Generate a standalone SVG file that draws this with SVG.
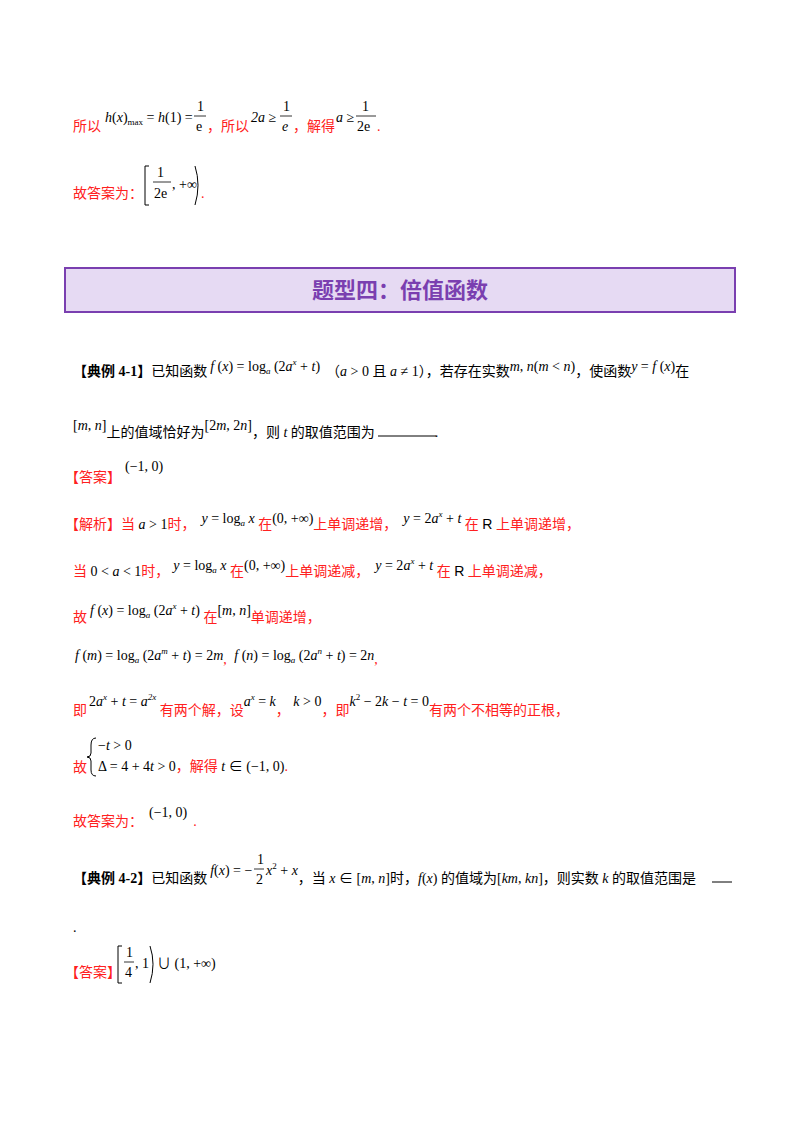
<svg xmlns="http://www.w3.org/2000/svg" width="800" height="1132" viewBox="0 0 800 1132">
<style>
text{font-family:"Liberation Serif","Noto Sans CJK SC",serif;font-size:14px;fill:#000}
.r{fill:#ff2020}
.i{font-style:italic}
.s{font-size:9px}
.b{font-weight:bold}
.frac{stroke:#000;stroke-width:0.8}
.br{fill:none;stroke:#000;stroke-width:1}
</style>
<rect width="800" height="1132" fill="#fff"/>
<g id="top">
<text x="73" y="131"><tspan class="r">所以</tspan><tspan dx="4" dy="-9"><tspan class="i">h</tspan>(<tspan class="i">x</tspan>)</tspan><tspan class="s" dy="3">max</tspan><tspan dy="-3"> = </tspan><tspan class="i">h</tspan>(1) =</text>
<text x="197" y="111">1</text><line class="frac" x1="194" y1="116" x2="206" y2="116"/><text x="196" y="131">e</text>
<text x="207" y="131" class="r">，所以</text>
<text x="251" y="122"><tspan class="i">2a</tspan> ≥</text>
<text x="283" y="111">1</text><line class="frac" x1="280" y1="116" x2="292" y2="116"/><text class="i" x="282" y="131">e</text>
<text x="293" y="131" class="r">，解得</text>
<text x="336" y="122"><tspan class="i">a</tspan> ≥</text>
<text x="362" y="111">1</text><line class="frac" x1="356" y1="116" x2="376" y2="116"/><text x="357" y="131">2e</text>
<text x="377" y="131" class="r">.</text>
<text x="73" y="198" class="r">故答案为：</text>
<path class="br" d="M 149 166 L 145 166 L 145 205 L 149 205"/>
<text x="157" y="177">1</text><line class="frac" x1="153" y1="182" x2="171" y2="182"/><text x="154" y="198">2e</text>
<text x="172" y="189">, +∞</text>
<path class="br" d="M 195 166 Q 201 185 195 205"/>
<text x="201" y="198" class="r">.</text>
</g>
<g id="header">
<rect x="65" y="268" width="670" height="44" fill="#e6daf3" stroke="#7a3fb0" stroke-width="2"/>
<text x="400" y="298" text-anchor="middle" style="fill:#7a3fb0;font-family:'Noto Sans CJK SC',sans-serif;font-weight:bold;font-size:22px">题型四：倍值函数</text>
</g>
<g id="ex1">
<text x="73" y="376"><tspan class="b">【典例 4-1】</tspan>已知函数<tspan dx="3" dy="-5"><tspan class="i">f</tspan> (<tspan class="i">x</tspan>) = log</tspan><tspan class="s i" dy="3">a</tspan><tspan dy="-3"> (2<tspan class="i">a</tspan></tspan><tspan class="s i" dy="-6">x</tspan><tspan dy="6"> + </tspan><tspan class="i">t</tspan>)<tspan dx="6" dy="5">（</tspan><tspan class="i">a</tspan> &gt; 0 且 <tspan class="i">a</tspan> ≠ 1），若存在实数<tspan dy="-5"><tspan class="i">m</tspan>, <tspan class="i">n</tspan>(<tspan class="i">m</tspan> &lt; <tspan class="i">n</tspan>)</tspan><tspan dy="5">，使函数</tspan><tspan dy="-5"><tspan class="i">y</tspan> = <tspan class="i">f</tspan> (<tspan class="i">x</tspan>)</tspan><tspan dy="5">在</tspan></text>
<text x="73" y="437"><tspan dy="-7">[<tspan class="i">m</tspan>, <tspan class="i">n</tspan>]</tspan><tspan dy="7">上的值域恰好为</tspan><tspan dy="-7">[2<tspan class="i">m</tspan>, 2<tspan class="i">n</tspan>]</tspan><tspan dy="7">，则 </tspan><tspan class="i">t</tspan> 的取值范围为<tspan dx="60">.</tspan></text>
<line x1="378" y1="436" x2="436" y2="436" stroke="#000" stroke-width="1"/>
<text x="65" y="482"><tspan class="r">【答案】</tspan><tspan dx="4" dy="-11">(−1, 0)</tspan></text>
</g>
<g id="sol1">
<text x="65" y="529"><tspan class="r">【解析】当 </tspan><tspan class="i">a</tspan> &gt; 1<tspan class="r">时，</tspan><tspan dx="6" dy="-6"><tspan class="i">y</tspan> = log</tspan><tspan class="s i" dy="3">a</tspan><tspan class="i" dy="-3"> x</tspan><tspan class="r" dy="6"> 在</tspan><tspan dy="-6">(0, +∞)</tspan><tspan class="r" dy="6">上单调递增，</tspan><tspan dx="6" dy="-6"><tspan class="i">y</tspan> = 2<tspan class="i">a</tspan></tspan><tspan class="s i" dy="-6">x</tspan><tspan dy="6"> + </tspan><tspan class="i">t</tspan><tspan class="r" dy="6"> 在 </tspan><tspan style="font-family:'Liberation Sans'">R</tspan><tspan class="r"> 上单调递增，</tspan></text>
<text x="73" y="576"><tspan class="r">当 </tspan>0 &lt; <tspan class="i">a</tspan> &lt; 1<tspan class="r">时，</tspan><tspan dx="4" dy="-6"><tspan class="i">y</tspan> = log</tspan><tspan class="s i" dy="3">a</tspan><tspan class="i" dy="-3"> x</tspan><tspan class="r" dy="6"> 在</tspan><tspan dy="-6">(0, +∞)</tspan><tspan class="r" dy="6">上单调递减，</tspan><tspan dx="6" dy="-6"><tspan class="i">y</tspan> = 2<tspan class="i">a</tspan></tspan><tspan class="s i" dy="-6">x</tspan><tspan dy="6"> + </tspan><tspan class="i">t</tspan><tspan class="r" dy="6"> 在 </tspan><tspan style="font-family:'Liberation Sans'">R</tspan><tspan class="r"> 上单调递减，</tspan></text>
<text x="73" y="622"><tspan class="r">故</tspan><tspan dx="3" dy="-7"><tspan class="i">f</tspan> (<tspan class="i">x</tspan>) = log</tspan><tspan class="s i" dy="3">a</tspan><tspan dy="-3"> (2<tspan class="i">a</tspan></tspan><tspan class="s i" dy="-6">x</tspan><tspan dy="6"> + </tspan><tspan class="i">t</tspan>)<tspan class="r" dy="7"> 在</tspan><tspan dy="-7">[<tspan class="i">m</tspan>, <tspan class="i">n</tspan>]</tspan><tspan class="r" dy="7">单调递增，</tspan></text>
<text x="75" y="660"><tspan class="i">f</tspan> (<tspan class="i">m</tspan>) = log<tspan class="s i" dy="3">a</tspan><tspan dy="-3"> (2<tspan class="i">a</tspan></tspan><tspan class="s i" dy="-6">m</tspan><tspan dy="6"> + </tspan><tspan class="i">t</tspan>) = 2<tspan class="i">m</tspan><tspan class="r" dy="4">,  </tspan><tspan dx="4" dy="-4"><tspan class="i">f</tspan> (<tspan class="i">n</tspan>) = log</tspan><tspan class="s i" dy="3">a</tspan><tspan dy="-3"> (2<tspan class="i">a</tspan></tspan><tspan class="s i" dy="-6">n</tspan><tspan dy="6"> + </tspan><tspan class="i">t</tspan>) = 2<tspan class="i">n</tspan><tspan class="r" dy="4">,</tspan></text>
<text x="73" y="715"><tspan class="r">即</tspan><tspan dx="2" dy="-9">2<tspan class="i">a</tspan></tspan><tspan class="s i" dy="-6">x</tspan><tspan dy="6"> + </tspan><tspan class="i">t</tspan> = <tspan class="i">a</tspan><tspan class="s i" dy="-6">2x</tspan><tspan class="r" dy="15"> 有两个解，设</tspan><tspan dy="-9" class="i">a</tspan><tspan class="s i" dy="-6">x</tspan><tspan dy="6"> = </tspan><tspan class="i">k</tspan><tspan class="r" dy="9">，</tspan><tspan dy="-9"> <tspan class="i">k</tspan> &gt; 0</tspan><tspan class="r" dy="9">，即</tspan><tspan dy="-9" class="i">k</tspan><tspan class="s" dy="-6">2</tspan><tspan dy="6"> − 2</tspan><tspan class="i">k</tspan> − <tspan class="i">t</tspan> = 0<tspan class="r" dy="9">有两个不相等的正根，</tspan></text>
<text x="73" y="772" class="r">故</text>
<path class="br" d="M 96 738 Q 91 738 91 745 L 91 753 Q 91 757 87 757 Q 91 757 91 761 L 91 770 Q 91 776 96 776"/>
<text x="98" y="750">−<tspan class="i">t</tspan> &gt; 0</text>
<text x="98" y="771">Δ = 4 + 4<tspan class="i">t</tspan> &gt; 0<tspan class="r">，解得 </tspan><tspan class="i">t</tspan> ∈ (−1, 0)<tspan class="r">.</tspan></text>
<text x="73" y="826"><tspan class="r">故答案为：</tspan><tspan dx="6" dy="-9">(−1, 0)</tspan><tspan class="r" dx="6" dy="9">.</tspan></text>
</g>
<g id="ex2">
<text x="73" y="883"><tspan class="b">【典例 4-2】</tspan>已知函数<tspan dx="3" dy="-8"><tspan class="i">f</tspan>(<tspan class="i">x</tspan>) = −</tspan></text>
<text x="257" y="864">1</text><line class="frac" x1="254" y1="869" x2="264" y2="869"/><text x="256" y="884">2</text>
<text x="266" y="875"><tspan class="i">x</tspan><tspan class="s" dy="-6">2</tspan><tspan dy="6"> + </tspan><tspan class="i">x</tspan><tspan dy="8">，当 </tspan><tspan class="i">x</tspan> ∈ [<tspan class="i">m</tspan>, <tspan class="i">n</tspan>]时，<tspan class="i">f</tspan>(<tspan class="i">x</tspan>) 的值域为[<tspan class="i">km</tspan>, <tspan class="i">kn</tspan>]，则实数 <tspan class="i">k</tspan> 的取值范围是</text>
<line x1="712" y1="882" x2="732" y2="882" stroke="#000" stroke-width="1"/>
<text x="73" y="932">.</text>
<text x="65" y="977" class="r">【答案】</text>
<path class="br" d="M 122 946 L 118 946 L 118 983 L 122 983"/>
<text x="126" y="957">1</text><line class="frac" x1="124" y1="962" x2="134" y2="962"/><text x="125" y="977">4</text>
<text x="135" y="968">, 1</text>
<path class="br" d="M 150 946 Q 156 964 150 983"/>
<text x="157" y="968">∪ (1, +∞)</text>
</g>
</svg>
